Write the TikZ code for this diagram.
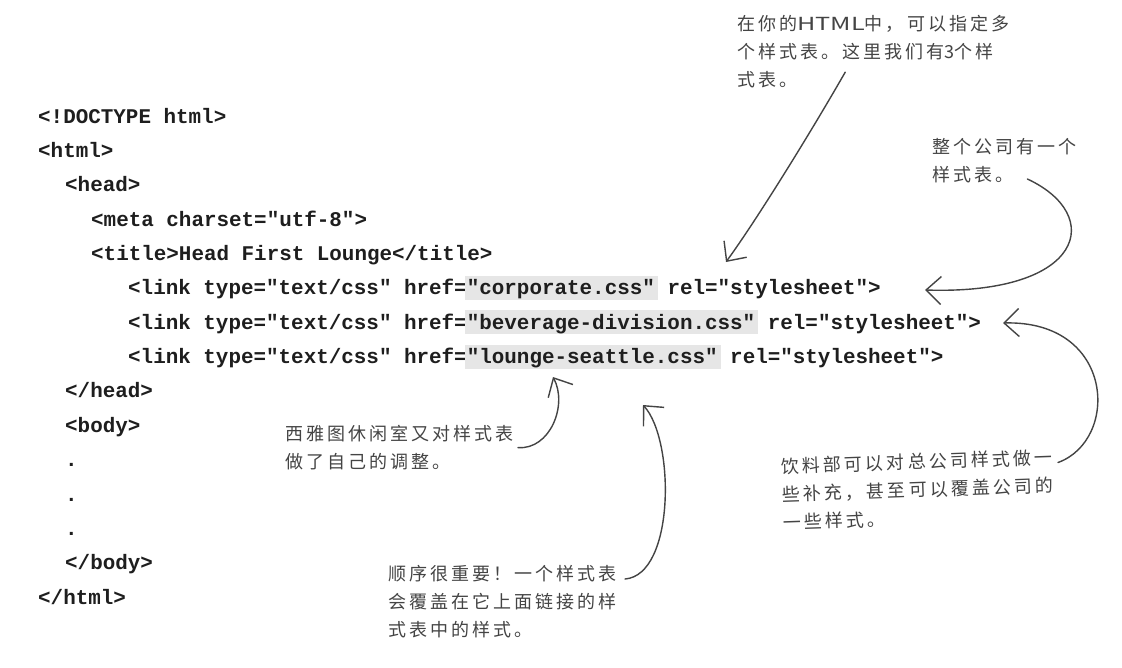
\documentclass[tikz,border=0pt]{standalone}
\usepackage{fontspec}
\usetikzlibrary{arrows.meta}
\newfontfamily\codefont{Liberation Mono}
\newfontfamily\handfont[LetterSpace=17]{Noto Sans CJK SC}
\newfontfamily\handtight{Noto Sans CJK SC}
\definecolor{hlgray}{HTML}{E6E6E6}
\definecolor{inkgray}{HTML}{444444}
\definecolor{codeblack}{HTML}{1E1E1E}
\newcommand\hlcss[1]{\kern-2pt{\fboxsep=0pt\colorbox{hlgray}{\rule[-5pt]{0pt}{24pt}\kern2pt#1\kern3pt}}\kern-3pt\relax}

\begin{document}
\begin{tikzpicture}[x=1pt,y=-1pt,>={Straight Barb[length=15pt,width=28pt]},
  code/.style={anchor=base west,inner sep=0pt,text=codeblack,font=\codefont\bfseries\fontsize{20.9}{25}\selectfont},
  note/.style={anchor=north west,inner sep=0pt,align=left,text=inkgray,font=\handfont\fontsize{18}{28}\selectfont},
  hand/.style={->,draw=inkgray,line width=1.4pt,line cap=round}]
\useasboundingbox[fill=white] (0,0) rectangle (1122,667);
\node[code] (doctype) at (38,123) {<!DOCTYPE html>};
\node[code] (html) at (38,157.4) {<html>};
\node[code] (head) at (65,191.7) {<head>};
\node[code] (meta) at (91,226.1) {<meta charset="utf-8">};
\node[code] (title) at (91,260.4) {<title>Head First Lounge</title>};
\node[code] (corp) at (128,294.8) {<link type="text/css" href=\hlcss{"corporate.css"} rel="stylesheet">};
\node[code] (bev) at (128,329.2) {<link type="text/css" href=\hlcss{"beverage-division.css"} rel="stylesheet">};
\node[code] (seattle) at (128,363.5) {<link type="text/css" href=\hlcss{"lounge-seattle.css"} rel="stylesheet">};
\node[code] (headend) at (65,397.9) {</head>};
\node[code] (body) at (65,432.2) {<body>};
\node[code] (dota) at (65,466.6) {.};
\node[code] (dotb) at (65,501) {.};
\node[code] (dotc) at (65,535.3) {.};
\node[code] (bodyend) at (65,569.7) {</body>};
\node[code] (htmlend) at (38,604) {</html>};

\node[note] (multi) at (737,15) {在你的{\handtight\scalebox{1.4}[1]{HTML}}中，可以指定多\\个样式表。这里我们有{\handtight 3}个样\\式表。};
\node[note] (company) at (932,138) {整个公司有一个\\样式表。};
\node[note] (lounge) at (285,425) {西雅图休闲室又对样式表\\做了自己的调整。};
\node[note] (order) at (388,565) {顺序很重要！一个样式表\\会覆盖在它上面链接的样\\式表中的样式。};
\node[note,rotate=2] (drinks) at (781,458) {饮料部可以对总公司样式做一\\些补充，甚至可以覆盖公司的\\一些样式。};

\coordinate (tipmulti) at (726,262);
\coordinate (tipcorp) at (925,290);
\coordinate (tipbev) at (1003,323);
\coordinate (tipseattle) at (553,377);
\coordinate (tiporder) at (643,405);

\draw[hand] ([xshift=-28pt,yshift=16pt]multi.south) .. controls (815,125) and (760,215) .. (tipmulti);
\draw[hand] ([xshift=23pt,yshift=4pt]company.south) .. controls (1105,215) and (1085,295) .. (tipcorp);
\draw[hand] ([xshift=6pt,yshift=-14pt]drinks.north east) .. controls (1120,440) and (1115,320) .. (tipbev);
\draw[hand] ([xshift=4pt]lounge.east) .. controls (550,450) and (568,405) .. (tipseattle);
\draw[hand] ([xshift=8pt,yshift=-14pt]order.north east) .. controls (675,575) and (675,440) .. (tiporder);
\end{tikzpicture}
\end{document}
